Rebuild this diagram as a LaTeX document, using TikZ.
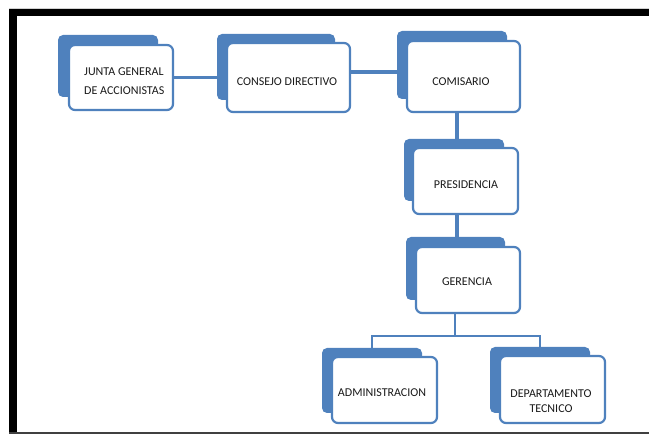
\documentclass[tikz,border=0pt]{standalone}
\usepackage{fontspec}
\setmainfont{Carlito}
\usetikzlibrary{calc,backgrounds}
\definecolor{ocblue}{HTML}{4F81BD}
\definecolor{octext}{HTML}{1A1A1A}
\tikzset{
  x=1pt, y=-1pt,
  frontbox/.style={draw=ocblue, line width=2.2pt, fill=white, rounded corners=6pt,
    inner sep=0pt, minimum width=#1},
  backbox/.style={fill=ocblue, rounded corners=5pt, inner sep=0pt, minimum width=#1},
  boxtext/.style={text=octext, font=\fontsize{12}{15}\selectfont, inner sep=0pt, align=center},
  link/.style={draw=ocblue, line width=3.2pt},
}
\begin{document}
\begin{tikzpicture}
\useasboundingbox (0,0) rectangle (649,435);
% page frame
\draw[gray!35, line width=0.8pt] (9,8) -- (649,8);
\fill[black] (9,9) rectangle (649,16);
\fill[black] (9,9) rectangle (17,432);
\draw[gray!50!black, line width=1.4pt] (9,433) -- (649,433);

% back (shadow) plates
\node[backbox=100pt, minimum height=62pt] (juntaS) at (108,66) {};
\node[backbox=118pt, minimum height=66pt] (consejoS) at (276,67) {};
\node[backbox=110pt, minimum height=68pt] (comisarioS) at (452,65) {};
\node[backbox=100pt, minimum height=62pt] (presS) at (454,170) {};
\node[backbox=99pt, minimum height=63pt] (gerS) at (455.5,268.5) {};
\node[backbox=100pt, minimum height=65pt] (adminS) at (372,380.5) {};
\node[backbox=100pt, minimum height=66pt] (deptS) at (540,380) {};

% front boxes
\node[frontbox=104pt, minimum height=65pt] (junta) at (121,77.5) {};
\node[frontbox=123pt, minimum height=69pt] (consejo) at (288.5,77.5) {};
\node[frontbox=113pt, minimum height=71pt] (comisario) at (463.5,76.5) {};
\node[frontbox=105pt, minimum height=66pt] (pres) at (465.5,181) {};
\node[frontbox=104pt, minimum height=66pt] (ger) at (468,280) {};
\node[frontbox=105pt, minimum height=66pt] (admin) at (384.5,390) {};
\node[frontbox=105pt, minimum height=67pt] (dept) at (552.5,389.5) {};

% labels
\node[boxtext, align=left, anchor=west, font=\fontsize{12}{19}\selectfont] (juntaT) at (84,81.5)
  {JUNTA GENERAL\\DE ACCIONISTAS};
\node[boxtext] (consejoT) at (287,82) {CONSEJO DIRECTIVO};
\node[boxtext] (comisarioT) at (461,82) {COMISARIO};
\node[boxtext] (presT) at (466,185) {PRESIDENCIA};
\node[boxtext] (gerT) at (467,282) {GERENCIA};
\node[boxtext] (adminT) at (382,393) {ADMINISTRACION};
\node[boxtext] (deptT) at (551,401) {DEPARTAMENTO\\TECNICO};

% connectors, kept behind the plates
\begin{scope}[on background layer]
  \coordinate (cjA) at ($(consejo.east)+(0,-5.5)$);
  \coordinate (cmA) at ($(comisario.south)+(-6.5,0)$);
  \coordinate (prA) at ($(pres.south)+(-8.5,0)$);
  \coordinate (grA) at ($(ger.south)+(-13,0)$);
  \coordinate (bar) at ($(grA)+(0,22)$);
  \draw[link] (junta.east) -- (consejo.west);
  \draw[link] (cjA) -- (comisarioS.west |- cjA);
  \draw[link] (cmA) -- (cmA |- presS.north);
  \draw[link] (prA) -- (prA |- gerS.north);
  \draw[link, line width=2.6pt] (grA) -- (bar);
  \draw[link, line width=2.6pt] (adminS.north) -- (adminS.north |- bar) -- (deptS.north |- bar) -- (deptS.north);
\end{scope}
\end{tikzpicture}
\end{document}
